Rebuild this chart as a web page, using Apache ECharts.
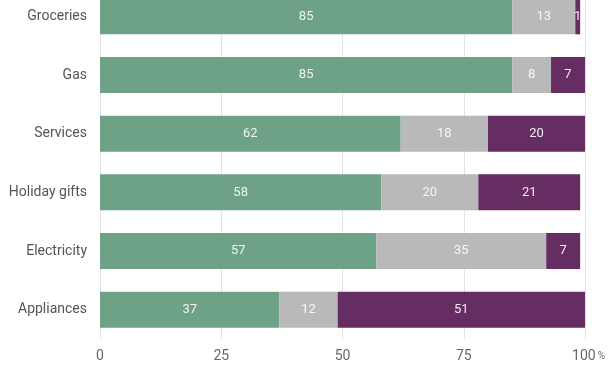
<!DOCTYPE html>
<html><head><meta charset="utf-8">
<script src="https://cdn.jsdelivr.net/npm/echarts@6/dist/echarts.min.js"></script>
<style>html,body{margin:0;padding:0;background:#fff;overflow:hidden}#c{width:612px;height:387px;position:relative;top:-13px}</style>
</head><body><div id="c"></div>
<script>
var categories = ['Groceries', 'Gas', 'Services', 'Holiday gifts', 'Electricity', 'Appliances'];
var seriesA = [85, 85, 62, 58, 57, 37];
var seriesB = [13, 8, 18, 20, 35, 12];
var seriesC = [1, 7, 20, 21, 7, 51];
var tickValues = [0, 25, 50, 75, 100];

var chart = echarts.init(document.getElementById('c'), null, {renderer: 'canvas'});
function lbl(color) {
  return {show: true, position: 'inside', color: color, fontFamily: 'Roboto', fontSize: 13};
}
chart.setOption({
  animation: false,
  grid: {left: 100, right: 27, top: 0, height: 352},
  xAxis: {
    type: 'value', min: 0, max: 100, interval: 25,
    axisLine: {show: false}, axisTick: {show: false},
    splitLine: {lineStyle: {color: '#e2e2e2', width: 1}},
    axisLabel: {
      margin: 10, color: '#666', fontFamily: 'Roboto', fontSize: 14,
      formatter: function (v) { return v === 100 ? '{s|}{a|100}{p|%}' : String(v); },
      rich: {
        s: {width: 7},
        a: {color: '#666', fontFamily: 'Roboto', fontSize: 14},
        p: {color: '#666', fontFamily: 'Roboto', fontSize: 10, padding: [0, 0, 0, 2]}
      }
    }
  },
  yAxis: {
    type: 'category', data: categories, inverse: true,
    axisLine: {show: true, lineStyle: {color: '#e2e2e2'}}, axisTick: {show: false},
    axisLabel: {margin: 13, color: '#555', fontFamily: 'Roboto', fontSize: 14}
  },
  series: [
    {type: 'bar', stack: 't', data: seriesA, barWidth: 36, itemStyle: {color: '#6ea287'}, label: lbl('#eef4f0')},
    {type: 'bar', stack: 't', data: seriesB, barWidth: 36, itemStyle: {color: '#b9b9b9'}, label: lbl('#f6f6f6')},
    {type: 'bar', stack: 't', data: seriesC, barWidth: 36, itemStyle: {color: '#652d62'}, label: lbl('#f3eaf2')}
  ]
});
</script></body></html>
